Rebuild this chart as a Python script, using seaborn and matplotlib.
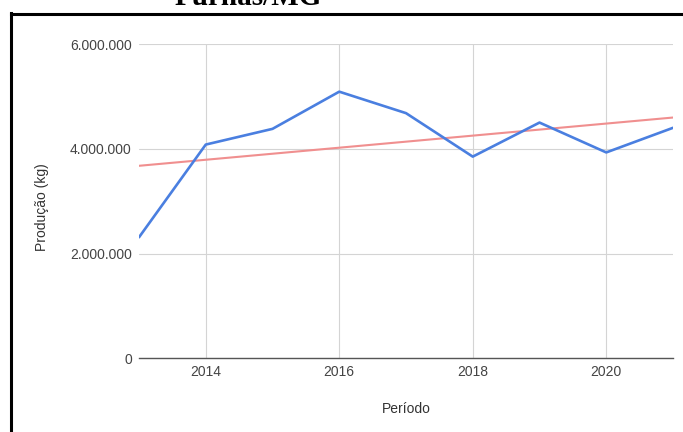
import numpy as np
import pandas as pd
import seaborn as sns
import matplotlib
matplotlib.use("Agg")
import matplotlib.pyplot as plt
from matplotlib.lines import Line2D
from matplotlib.ticker import FuncFormatter, FixedLocator

# Annual production (kg)
years = [2013, 2014, 2015, 2016, 2017, 2018, 2019, 2020, 2021]
producao_kg = [2310000, 4080000, 4380000, 5090000, 4680000, 3850000, 4500000, 3930000, 4400000]

x_ticks = [2014, 2016, 2018, 2020]
y_ticks = [0, 2000000, 4000000, 6000000]

sns.set_theme(style="white")
plt.rcParams["font.family"] = ["Liberation Sans", "DejaVu Sans"]

W, H = 683, 432
fig = plt.figure(figsize=(W / 100, H / 100), dpi=100)
fig.patch.set_facecolor("white")

left, right, top, bottom = 139, 673, 44, 358.3
ax = fig.add_axes([left / W, 1 - bottom / H, (right - left) / W, (bottom - top) / H])

df = pd.DataFrame({"ano": years, "producao": producao_kg})

# Series line
sns.lineplot(data=df, x="ano", y="producao", ax=ax, color="#4a7fe0",
             linewidth=1.9, zorder=3)
# Linear trend line fitted by seaborn
sns.regplot(data=df, x="ano", y="producao", ax=ax, scatter=False, ci=None,
            truncate=True, line_kws=dict(color="#f08f8f", linewidth=1.5, zorder=2))

ax.set_xlim(years[0], years[-1])
ax.set_ylim(y_ticks[0], y_ticks[-1])
ax.xaxis.set_major_locator(FixedLocator(x_ticks))
ax.yaxis.set_major_locator(FixedLocator(y_ticks))
ax.yaxis.set_major_formatter(FuncFormatter(lambda v, p: f"{int(round(v)):,}".replace(",", ".")))
ax.xaxis.set_major_formatter(FuncFormatter(lambda v, p: f"{int(round(v))}"))

ax.set_xlabel("")
ax.set_ylabel("")
ax.grid(True, color="#d4d4d4", linewidth=0.8)
ax.set_axisbelow(True)
for s in ["left", "right", "top"]:
    ax.spines[s].set_visible(False)
ax.spines["bottom"].set_color("#555555")
ax.spines["bottom"].set_linewidth(1.0)
ax.spines["bottom"].set_zorder(4)
ax.tick_params(axis="both", length=0, labelsize=10, colors="#444444")
ax.tick_params(axis="y", pad=5.2)
ax.tick_params(axis="x", pad=4.9)
ax.patch.set_alpha(0)

# Axis titles
fig.text(41.7 / W, 1 - 207 / H, "Produção (kg)", rotation=90, ha="center", va="center",
         fontsize=10, color="#333333")
fig.text(406 / W, 1 - 409 / H, "Período", ha="center", va="center",
         fontsize=10, color="#333333")

# Caption line above the framed chart
fig.text(175 / W, 1 - 5 / H, "Furnas/MG", ha="left", va="baseline",
         fontsize=21, fontweight="bold", color="black",
         family=["Liberation Serif", "DejaVu Serif"])

# Frame around the chart
fig.add_artist(Line2D([10.5 / W, 10.5 / W], [0, 1 - 13 / H], transform=fig.transFigure,
                      color="black", linewidth=2.2, solid_capstyle="projecting"))
fig.add_artist(Line2D([10.5 / W, 1], [1 - 14 / H, 1 - 14 / H], transform=fig.transFigure,
                      color="black", linewidth=2.2, solid_capstyle="projecting"))

fig.savefig("out.png", dpi=100, facecolor="white")
